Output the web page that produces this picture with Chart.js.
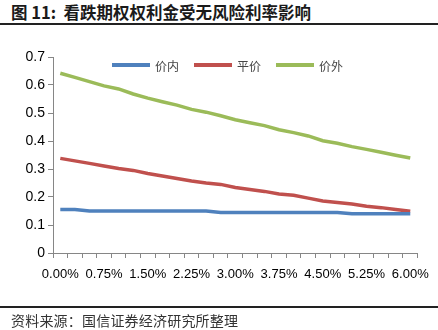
<!DOCTYPE html>
<html>
<head>
<meta charset="utf-8">
<script src="https://cdn.jsdelivr.net/npm/chart.js@4.4.1/dist/chart.umd.min.js"></script>
<style>
  html, body { margin: 0; padding: 0; background: #fff; }
  body { width: 438px; height: 330px; position: relative; overflow: hidden; }
  .titulo { position: absolute; left: 11px; top: 0px; font: bold 16.5px "Noto Sans CJK SC", sans-serif; color: #1a1a1a; white-space: nowrap; }
  .linha { position: absolute; left: 0; width: 438px; height: 2px; background: #222; }
  .fonte { position: absolute; left: 11px; top: 310px; font: 14px "Noto Sans CJK SC", sans-serif; color: #333; white-space: nowrap; letter-spacing: 0.2px; }
  #wrap { position: absolute; left: 0; top: 0; width: 438px; height: 330px; }
  #legenda { position: absolute; left: 112px; top: 57px; height: 16px; display: flex; align-items: center; z-index: 2;
             font: 12px "Noto Sans CJK SC", sans-serif; color: #444; }
  #legenda .item { display: flex; align-items: center; margin-right: 15px; }
  #legenda .traco { width: 38px; height: 4px; margin-right: 5px; }
</style>
</head>
<body>
<div class="titulo">图 11:&nbsp; 看跌期权权利金受无风险利率影响</div>
<div class="linha" style="top:23px"></div>
<div id="wrap"><canvas id="grafico"></canvas></div>
<div id="legenda"></div>
<div class="linha" style="top:306px"></div>
<div class="fonte">资料来源：国信证券经济研究所整理</div>
<script>
// taxas de 0.00% a 6.00%, passo de 0.25%
const taxas = ['0.00%','0.25%','0.50%','0.75%','1.00%','1.25%','1.50%','1.75%','2.00%','2.25%','2.50%','2.75%','3.00%',
               '3.25%','3.50%','3.75%','4.00%','4.25%','4.50%','4.75%','5.00%','5.25%','5.50%','5.75%','6.00%'];

const jianei = [0.155, 0.155, 0.150, 0.150, 0.150, 0.150, 0.150, 0.150, 0.150, 0.150, 0.150, 0.145, 0.145,
                0.145, 0.145, 0.145, 0.145, 0.145, 0.145, 0.145, 0.140, 0.140, 0.140, 0.140, 0.140];
const pingjia = [0.338, 0.329, 0.320, 0.311, 0.302, 0.295, 0.284, 0.275, 0.266, 0.257, 0.250, 0.245, 0.234,
                 0.227, 0.220, 0.211, 0.206, 0.196, 0.186, 0.180, 0.175, 0.167, 0.162, 0.155, 0.149];
const jiawai = [0.642, 0.627, 0.612, 0.597, 0.586, 0.568, 0.553, 0.540, 0.528, 0.513, 0.503, 0.490, 0.476,
                0.465, 0.455, 0.440, 0.430, 0.418, 0.401, 0.392, 0.380, 0.370, 0.360, 0.349, 0.339];

const nomes = ['价内', '平价', '价外'];
const cores = ['#4F81BD', '#C0504D', '#9BBB59'];
const yTicks = [0, 0.1, 0.2, 0.3, 0.4, 0.5, 0.6, 0.7];

const eixoCor = '#868686';
const fonteEixo = { family: '"Liberation Sans", Arial, sans-serif', size: 13 };

const series = [jianei, pingjia, jiawai];

// legenda em html, por cima da área do gráfico (como no Excel)
document.getElementById('legenda').innerHTML = nomes.map((n, i) =>
  `<div class="item"><div class="traco" style="background:${cores[i]}"></div><span>${n}</span></div>`
).join('');

new Chart(document.getElementById('grafico').getContext('2d'), {
  type: 'line',
  data: {
    labels: taxas,
    datasets: series.map((s, i) => ({
      label: nomes[i],
      data: s,
      borderColor: cores[i],
      backgroundColor: cores[i],
      borderWidth: 3.5,
      pointRadius: 0,
      tension: 0
    }))
  },
  options: {
    responsive: true,
    maintainAspectRatio: false,
    animation: false,
    layout: { padding: { top: 57, right: 15, bottom: 47, left: 0 } },
    plugins: {
      tooltip: { enabled: false },
      legend: { display: false }
    },
    scales: {
      x: {
        offset: true,
        grid: { offset: true, drawOnChartArea: false, tickLength: 5, color: eixoCor },
        border: { color: eixoCor, width: 1 },
        ticks: {
          autoSkip: false, maxRotation: 0, minRotation: 0, padding: 9,
          color: '#000', font: fonteEixo,
          callback: (v, i) => (i % 3 === 0 ? taxas[i] : '')
        },
        afterFit: s => { s.height = 30; }
      },
      y: {
        min: 0, max: 0.7,
        afterBuildTicks: s => { s.ticks = yTicks.map(v => ({ value: v })); },
        grid: { drawOnChartArea: false, tickLength: 5, color: eixoCor },
        border: { color: eixoCor, width: 1 },
        ticks: {
          padding: 3, color: '#000',
          font: { family: '"Liberation Sans", Arial, sans-serif', size: 14 },
          callback: v => String(+v.toFixed(1))
        },
        afterFit: s => { s.width = 53; }
      }
    }
  }
});
</script>
</body>
</html>
